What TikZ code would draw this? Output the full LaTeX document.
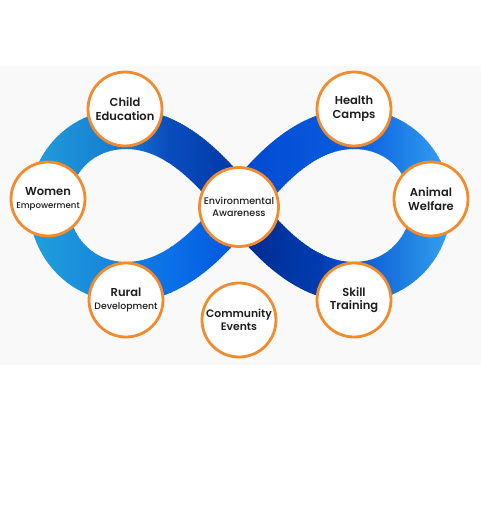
\documentclass[tikz,border=0pt]{standalone}
\usepackage{fontspec}
\setmainfont{Poppins}[UprightFont=* SemiBold]
\newfontfamily\popmed{Poppins}[UprightFont=* Medium]
\definecolor{bgC}{HTML}{F9F9F9}
\definecolor{orC}{HTML}{F28A2E}
\definecolor{txC}{HTML}{1E1E1E}
\definecolor{cyL}{HTML}{22A3DD}
\definecolor{cTL}{HTML}{1677D0}
\definecolor{cBL}{HTML}{1480DA}
\definecolor{cA1m}{HTML}{0A4EBE}
\definecolor{cA1e}{HTML}{0034A4}
\definecolor{cB1m}{HTML}{0A70E8}
\definecolor{cB1e}{HTML}{0052D8}
\definecolor{cB2s}{HTML}{0048D0}
\definecolor{cB2e}{HTML}{0A5EE0}
\definecolor{cA2s}{HTML}{002A8E}
\definecolor{cA2m}{HTML}{003CB0}
\definecolor{cA2e}{HTML}{0858D4}
\definecolor{cyR}{HTML}{3AABF2}
\newcommand\pLT{(126,129) .. controls (80,129) and (49,165) .. (49,205)}
\newcommand\pLB{(49,205) .. controls (49,245) and (80,282) .. (126,282)}
\newcommand\pAone{(126,129) .. controls (172,129) and (208,165) .. (240,206)}
\newcommand\pBone{(126,282) .. controls (172,282) and (208,247) .. (240,206)}
\newcommand\pBtwo{(240,206) .. controls (272,165) and (308,129) .. (354,129)}
\newcommand\pAtwo{(240,206) .. controls (272,247) and (308,282) .. (354,282)}
\newcommand\pRT{(354,129) .. controls (400,129) and (431,165) .. (431,205)}
\newcommand\pRB{(431,205) .. controls (431,245) and (400,282) .. (354,282)}
\newcommand\bandseg[5]{%
  \pgfmathtruncatemacro\bsx{#2+2}%
  \foreach \xx in {#2,\bsx,...,#3}{%
    \pgfmathtruncatemacro\ff{100*(\xx-#2)/(#3-#2)}%
    \begin{scope}
      \clip (\xx,0) rectangle (\xx+2.6,514);
      \draw[band, draw=#5!\ff!#4] #1;
    \end{scope}
  }%
}
\tikzset{
  band/.style={line width=40pt, line cap=butt},
  bub/.style={circle, draw=orC, line width=2.8pt, fill=white, minimum size=74pt,
    inner sep=0pt, align=center, text=txC, font=\fontsize{11.5}{13.5}\selectfont},
}
\begin{document}
\begin{tikzpicture}[x=1pt, y=-1pt]
\useasboundingbox (0,0) rectangle (481,514);
\fill[white] (0,0) rectangle (481,514);
\fill[bgC] (0,66) rectangle (481,365);
% left loop
\bandseg{\pLT}{20}{126}{cyL}{cTL}
\bandseg{\pLB}{20}{126}{cyL}{cBL}
% crossing arms
\bandseg{\pAone}{126}{166}{cTL}{cA1m}
\bandseg{\pAone}{166}{246}{cA1m}{cA1e}
\bandseg{\pBone}{126}{170}{cBL}{cB1m}
\bandseg{\pBone}{170}{246}{cB1m}{cB1e}
\bandseg{\pAtwo}{234}{320}{cA2s}{cA2m}
\bandseg{\pAtwo}{320}{354}{cA2m}{cA2e}
\bandseg{\pBtwo}{234}{354}{cB2s}{cB2e}
% right loop
\bandseg{\pRT}{354}{462}{cB2e}{cyR}
\bandseg{\pRB}{354}{462}{cA2e}{cyR}
% bubbles
\node[bub] (child) at (125,109) {Child\\Education};
\node[bub] (women) at (48,199) {Women\\\popmed\fontsize{8.6}{11}\selectfont Empowerment};
\node[bub, minimum size=79pt, font=\popmed\fontsize{9.6}{12}\selectfont] (env) at (239,207) {Environmental\\Awareness};
\node[bub] (health) at (354,109) {Health\\Camps};
\node[bub] (animal) at (431,199) {Animal\\Welfare};
\node[bub] (rural) at (126,300) {Rural\\\popmed\fontsize{9.3}{11}\selectfont Development};
\node[bub] (skill) at (354,300) {Skill\\Training};
\node[bub, font=\fontsize{10.8}{13}\selectfont] (community) at (239,320) {Community\\Events};
\end{tikzpicture}
\end{document}
